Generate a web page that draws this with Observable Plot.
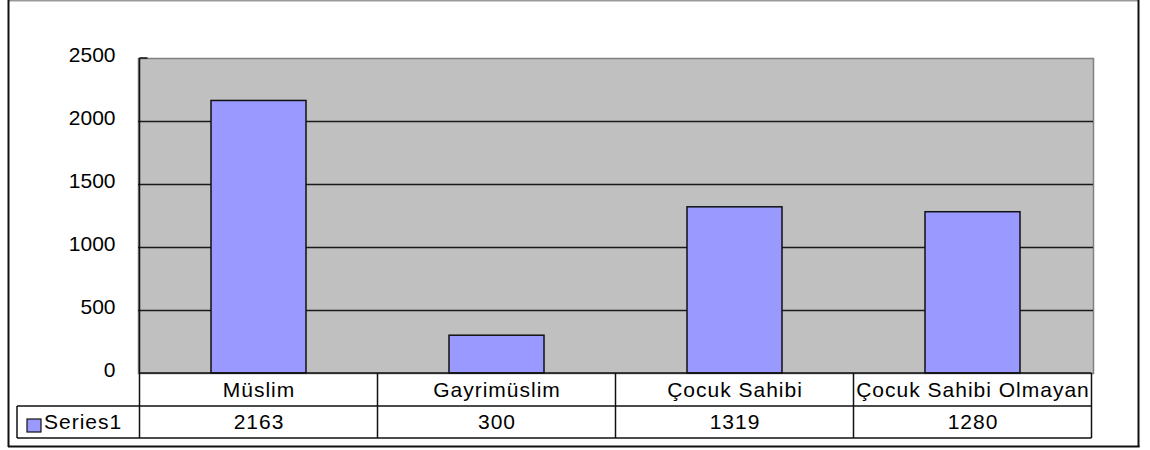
<!DOCTYPE html>
<html>
<head>
<meta charset="utf-8">
<script src="https://cdn.jsdelivr.net/npm/d3@7"></script>
<script src="https://cdn.jsdelivr.net/npm/@observablehq/plot@0.6"></script>
<style>
  html, body { margin: 0; padding: 0; background: #fff; }
</style>
</head>
<body>
<div id="chart"></div>
<script>
const categories = ["Müslim", "Gayrimüslim", "Çocuk Sahibi", "Çocuk Sahibi Olmayan"];
const values = [2163, 300, 1319, 1280];
const seriesName = "Series1";
const yTicks = [0, 500, 1000, 1500, 2000, 2500];

const data = categories.map((c, i) => ({category: c, value: values[i]}));
const FONT = "'Liberation Sans', Arial, sans-serif";

const plot = Plot.plot({
  width: 1150,
  height: 450,
  marginLeft: 138,
  marginRight: 57,
  marginTop: 58,
  marginBottom: 77,
  style: {fontFamily: FONT, fontSize: "21px", color: "#000", background: "#fff", overflow: "visible"},
  x: {domain: categories, paddingInner: 0.6, paddingOuter: 0.3, axis: null},
  y: {domain: [0, 2500], ticks: yTicks, tickSize: 0, tickPadding: 23, tickFormat: d => String(d), label: null},
  marks: [
    Plot.frame({fill: "#C0C0C0", stroke: "#808080", strokeWidth: 1.5}),
    Plot.ruleY(yTicks.filter(d => d > 0 && d < 2500), {stroke: "#1a1a1a", strokeWidth: 1.5}),
    Plot.barY(data, {x: "category", y: "value", fill: "#9999FF", stroke: "#111", strokeWidth: 1.5}),
    Plot.text(data, {x: "category", y: () => 0, text: "category", dy: 17, fill: "#000", fontSize: 21}),
    Plot.text(data, {x: "category", y: () => 0, text: d => String(d.value), dy: 49, fill: "#000", fontSize: 21})
  ]
});

const svg = d3.select(plot);
svg.selectAll("g[aria-label='text'] text").style("letter-spacing", "1px");
// nudge y tick labels slightly upward like the reference
svg.selectAll("g[aria-label='y-axis tick label'] text, g[aria-label='y-axis'] text").attr("dy", "-0.15em");

const xs = plot.scale("x");
const ys = plot.scale("y");
const step = xs.step, bw = xs.bandwidth;
const bounds = categories.map(c => xs.apply(c) - (step - bw) / 2);
bounds.push(bounds[bounds.length - 1] + step);
const xL = bounds[0], xR = bounds[bounds.length - 1];
const yTop = ys.apply(2500);
const y0 = ys.apply(0);
const r1 = y0 + 33, r2 = y0 + 65;
const legendLeft = 17;

const g = svg.append("g").attr("stroke", "#111").attr("stroke-width", 1.5).attr("fill", "none");
g.append("line").attr("x1", xL).attr("x2", xR).attr("y1", y0).attr("y2", y0);
g.append("line").attr("x1", legendLeft).attr("x2", xR).attr("y1", r1).attr("y2", r1);
g.append("line").attr("x1", legendLeft).attr("x2", xR).attr("y1", r2).attr("y2", r2);
bounds.forEach((b, i) => {
  g.append("line").attr("x1", b).attr("x2", b).attr("y1", i === 0 ? yTop : y0).attr("y2", r2);
});
g.append("line").attr("x1", legendLeft).attr("x2", legendLeft).attr("y1", r1).attr("y2", r2);
g.append("line").attr("x1", xL).attr("x2", xL + 8).attr("y1", yTop).attr("y2", yTop);

// legend key in table
svg.append("rect").attr("x", 27).attr("y", 419).attr("width", 14).attr("height", 13)
  .attr("fill", "#9999FF").attr("stroke", "#111").attr("stroke-width", 1.2);
svg.append("text").attr("x", 44).attr("y", (r1 + r2) / 2).attr("dy", "0.35em")
  .attr("text-anchor", "start")
  .attr("font-family", FONT).attr("font-size", 21).attr("letter-spacing", "1px")
  .attr("fill", "#000").text(seriesName);

// outer chart border
const ob = svg.append("g").attr("fill", "none");
ob.append("line").attr("x1", 8).attr("x2", 1139).attr("y1", 0.75).attr("y2", 0.75).attr("stroke", "#9a9a9a").attr("stroke-width", 1.5);
ob.append("line").attr("x1", 8.5).attr("x2", 8.5).attr("y1", 0).attr("y2", 447).attr("stroke", "#111").attr("stroke-width", 2);
ob.append("line").attr("x1", 1138.5).attr("x2", 1138.5).attr("y1", 0).attr("y2", 447).attr("stroke", "#111").attr("stroke-width", 2);
ob.append("line").attr("x1", 8).attr("x2", 1139.5).attr("y1", 446.5).attr("y2", 446.5).attr("stroke", "#111").attr("stroke-width", 2);

document.getElementById("chart").appendChild(plot);
</script>
</body>
</html>
